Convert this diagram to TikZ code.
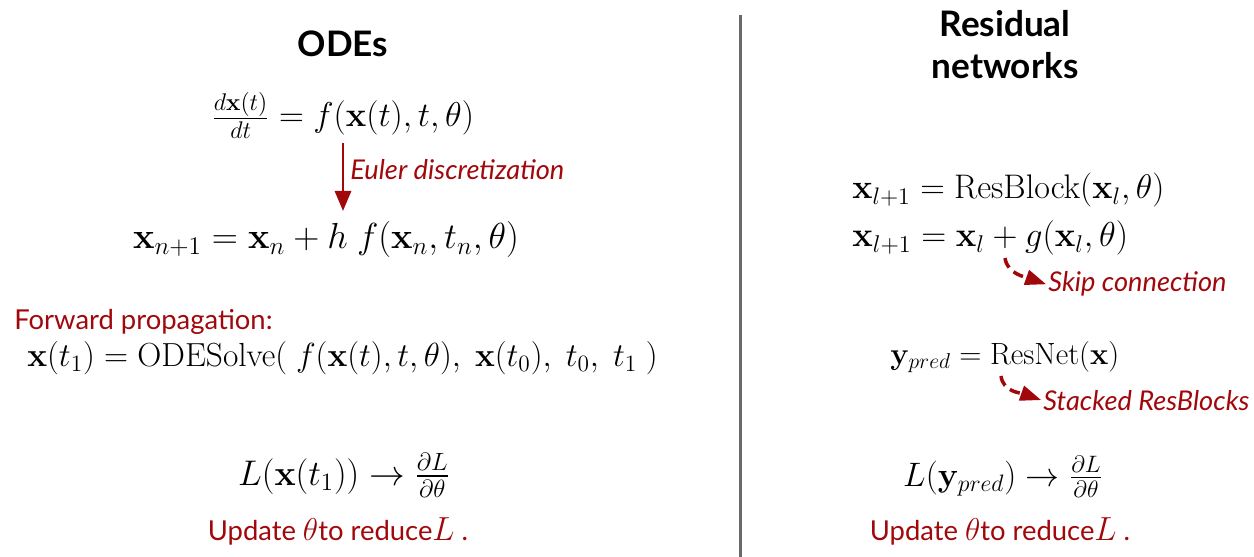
\RequirePackage{fix-cm}
\documentclass[tikz,border=0pt]{standalone}
\usepackage[no-math]{fontspec}
\setmainfont{Lato}
\usepackage{amsmath,amssymb}
\usetikzlibrary{arrows.meta,positioning,calc}
\definecolor{notered}{RGB}{160,8,12}
\definecolor{dividergray}{RGB}{105,105,105}

\begin{document}
\begin{tikzpicture}[
    x=0.02cm, y=-0.02cm,
    title/.style={font=\fontsize{20}{24}\selectfont\bfseries, align=center, inner sep=0pt},
    eqn/.style={font=\fontsize{#1}{#1}\selectfont, inner sep=0pt},
    eqn/.default=19,
    note/.style={text=notered, font=\fontsize{15.5}{18}\selectfont\itshape, inner sep=0pt},
    redtext/.style={text=notered, font=\fontsize{15.6}{18}\selectfont, inner sep=0pt},
    arrow/.style={-{Triangle[length=4mm, width=3.2mm]}, line width=1.7pt, notered},
    dasharrow/.style={-{Triangle[length=4.2mm, width=3mm]}, line width=2pt, notered, dash pattern=on 6pt off 3.5pt}
]
    \useasboundingbox (0,0) rectangle (1254,557);

    % Divider
    \coordinate (divtop) at (740,15);
    \coordinate (divbot) at (740,557);
    \draw[dividergray, line width=1.7pt] (divtop) -- (divbot);

    % ODE side
    \node[title, anchor=base] (odetitle) at (343,57) {ODEs};
    \node[eqn=19.6, anchor=base] (ode) at (343,127) {$\frac{d\mathbf{x}(t)}{dt} = f(\mathbf{x}(t), t, \theta)$};
    \node[eqn=20.6, anchor=base] (euler) at (326,249) {$\mathbf{x}_{n+1} = \mathbf{x}_n + h\ f(\mathbf{x}_n, t_n, \theta)$};
    \draw[arrow] ([yshift=-2pt]ode.south -| 343,0) -- ([yshift=6pt]euler.north -| 343,0) coordinate[pos=0.4] (eulermid);
    \node[note, right=4pt of eulermid] (eulerlabel) {Euler discretization};

    \node[redtext, anchor=base west] (fwd) at (14,329) {Forward propagation:};
    \node[eqn=19, anchor=base west] (solve) at (27,366) {$\mathbf{x}(t_1) = \mathrm{ODESolve}(\ f(\mathbf{x}(t), t, \theta),\ \mathbf{x}(t_0),\ t_0,\ t_1\ )$};

    \node[eqn=20.3, anchor=base] (odeloss) at (344,485) {$L(\mathbf{x}(t_1)) \rightarrow \frac{\partial L}{\partial \theta}$};
    \node[redtext, anchor=base] (odeupdate) at (338,540) {Update {\fontsize{18}{18}\selectfont$\theta$}to reduce{\fontsize{19}{19}\selectfont$L$} .};

    % ResNet side
    \node[title, anchor=base] (restitle) at (1005,79) {Residual\\networks};
    \node[eqn=19.4, anchor=base west] (resblock) at (852,199) {$\mathbf{x}_{l+1} = \mathrm{ResBlock}(\mathbf{x}_l, \theta)$};
    \node[eqn=19.7, anchor=base west] (skipeq) at (852,247) {$\mathbf{x}_{l+1} = \mathbf{x}_l + g(\mathbf{x}_l, \theta)$};
    \coordinate (skipstart) at (1005,258);
    \node[note, anchor=base west] (skiplabel) at (1048,292) {Skip connection};
    \draw[dasharrow] (skipstart) .. controls +(2,16) and +(-20,-7) .. ([xshift=-1pt]skiplabel.west);

    \node[eqn=17.5, anchor=base west] (resnet) at (890,364) {$\mathbf{y}_{pred} = \mathrm{ResNet}(\mathbf{x})$};
    \coordinate (stackstart) at (1001,376);
    \node[note, anchor=base west] (stacklabel) at (1043,410) {Stacked ResBlocks};
    \draw[dasharrow] (stackstart) .. controls +(2,16) and +(-20,-7) .. ([xshift=-1pt]stacklabel.west);

    \node[eqn=19.3, anchor=base] (resloss) at (1003,486) {$L(\mathbf{y}_{pred}) \rightarrow \frac{\partial L}{\partial \theta}$};
    \node[redtext, anchor=base] (resupdate) at (1000,540) {Update {\fontsize{18}{18}\selectfont$\theta$}to reduce{\fontsize{19}{19}\selectfont$L$} .};
\end{tikzpicture}
\end{document}
